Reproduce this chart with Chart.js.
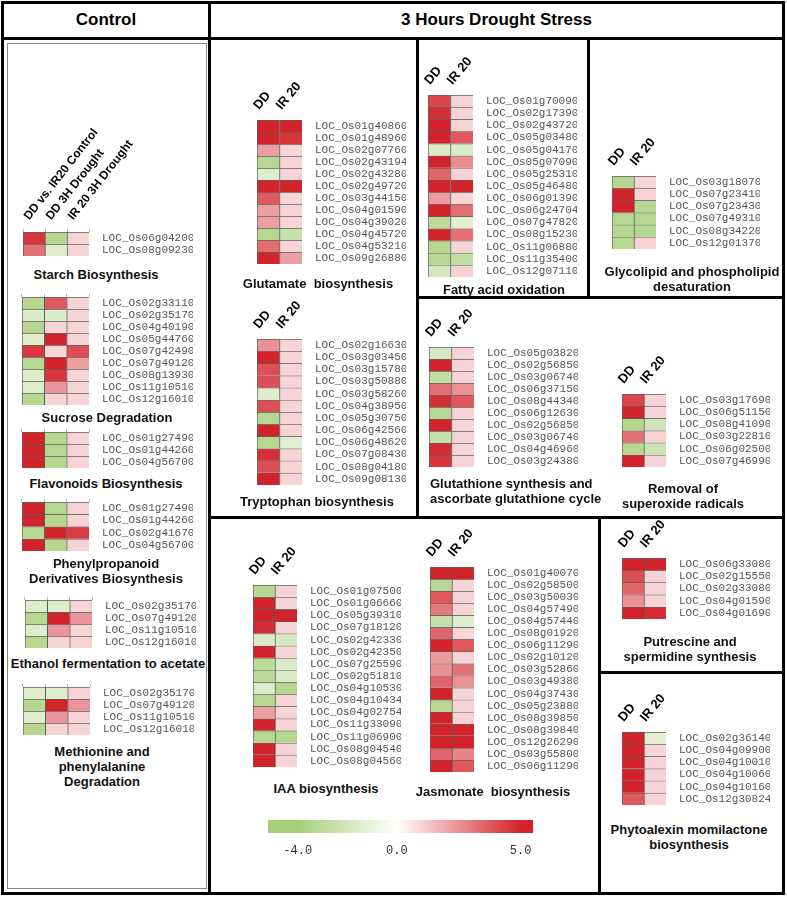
<!DOCTYPE html>
<html>
<head>
<meta charset="utf-8">
<script src="https://cdn.jsdelivr.net/npm/chart.js@4.4.1/dist/chart.umd.min.js"></script>
<style>
  body { margin: 0; background: #fff; }
  #page { position: relative; width: 787px; height: 897px; overflow: hidden; background: #fff;
          font-family: 'Liberation Sans', Arial, sans-serif; }
  .line { position: absolute; background: #000; }
  .box { position: absolute; border: 1px solid #8a8a8a; box-sizing: border-box; }
  .title { position: absolute; font-weight: bold; font-size: 13px; line-height: 15px; color: #111;
           white-space: nowrap; }
  .head { position: absolute; font-weight: bold; font-size: 17px; line-height: 20px; color: #000;
          text-align: center; }
  canvas { position: absolute; }
</style>
</head>
<body>
<div id="page"></div>
<script>
// column headers
const CONTROL_COLS = ['DD vs. IR20 Control', 'DD 3H Drought', 'IR 20 3H Drought'];
const DROUGHT_COLS = ['DD', 'IR 20'];

// ---- Control panel (log2 values) ----
const STARCH_GENES = ['LOC_Os06g04200', 'LOC_Os08g09230'];
const STARCH_VALUES = [[4.6, -3.3, 1], [3.2, -1.5, 1]];

const SUCROSE_GENES = ['LOC_Os02g33110', 'LOC_Os02g35170', 'LOC_Os04g40190', 'LOC_Os05g44760', 'LOC_Os07g42490',
  'LOC_Os07g49120', 'LOC_Os08g13930', 'LOC_Os11g10510', 'LOC_Os12g16010'];
const SUCROSE_VALUES = [[-3.3, 3.8, 1], [-1.6, -1.6, 1], [-3.3, 1, 1], [-1.5, 5, 1], [4.5, 1, 4],
  [-3.3, 5, 2.2], [-1.5, 4.6, 1], [-1.5, 2.4, 1], [-3.3, 1, 1]];

const FLAVONOID_GENES = ['LOC_Os01g27490', 'LOC_Os01g44260', 'LOC_Os04g56700'];
const FLAVONOID_VALUES = [[5, -3.3, 1], [5, -3.3, 1], [5, -3.3, 1]];

const PHENYL_GENES = ['LOC_Os01g27490', 'LOC_Os01g44260', 'LOC_Os02g41670', 'LOC_Os04g56700'];
const PHENYL_VALUES = [[5, -3.3, 1], [5, -3.3, 1], [-3.3, 5, 4.4], [5, -3.3, 1]];

const ETHANOL_GENES = ['LOC_Os02g35170', 'LOC_Os07g49120', 'LOC_Os11g10510', 'LOC_Os12g16010'];
const ETHANOL_VALUES = [[-1.5, -1.5, 1], [-3.3, 5, 2.4], [-1.5, 2.4, 1], [-3.3, 1, 1]];

const METHIONINE_GENES = ['LOC_Os02g35170', 'LOC_Os07g49120', 'LOC_Os11g10510', 'LOC_Os12g16010'];
const METHIONINE_VALUES = [[-1.5, -1.5, 1], [-3.3, 5, 2.4], [-1.5, 2.4, 1], [-3.3, 1, 1]];

// ---- 3 hours drought stress ----
const GLUTAMATE_GENES = ['LOC_Os01g40860', 'LOC_Os01g48960', 'LOC_Os02g07760', 'LOC_Os02g43194', 'LOC_Os02g43280',
  'LOC_Os02g49720', 'LOC_Os03g44150', 'LOC_Os04g01590', 'LOC_Os04g39020', 'LOC_Os04g45720', 'LOC_Os04g53210',
  'LOC_Os09g26880'];
const GLUTAMATE_VALUES = [[5, 5], [5, 4.6], [2.2, 1], [-3.3, 1], [-1.5, 1], [5, 5], [3.8, 1], [2.2, 1], [2.2, 1],
  [-3.3, -2.5], [3.3, 1], [5, 2.2]];

const TRYPTOPHAN_GENES = ['LOC_Os02g16630', 'LOC_Os03g03450', 'LOC_Os03g15780', 'LOC_Os03g50880', 'LOC_Os03g58260',
  'LOC_Os04g38950', 'LOC_Os05g30750', 'LOC_Os06g42560', 'LOC_Os06g48620', 'LOC_Os07g08430', 'LOC_Os08g04180',
  'LOC_Os09g08130'];
const TRYPTOPHAN_VALUES = [[2.5, 1], [5, 1], [4, 1], [4, 1], [-1.5, 1], [4, 1], [-3.3, 1], [5, 1], [-3.3, -1.3],
  [4.7, 1], [4, 1], [5, 1]];

const FATTY_GENES = ['LOC_Os01g70090', 'LOC_Os02g17390', 'LOC_Os02g43720', 'LOC_Os05g03480', 'LOC_Os05g04170',
  'LOC_Os05g07090', 'LOC_Os05g25310', 'LOC_Os05g46480', 'LOC_Os06g01390', 'LOC_Os06g24704', 'LOC_Os07g47820',
  'LOC_Os08g15230', 'LOC_Os11g06880', 'LOC_Os11g35400', 'LOC_Os12g07110'];
const FATTY_VALUES = [[4.2, 1], [4.7, 1], [5, 1], [5, 3.8], [-1.7, -1.7], [5, 2.6], [3.5, 1], [5, 5], [2.3, 1],
  [5, 3.3], [-3, -1.3], [5, 3.2], [-3.3, 1], [-3.3, -2.8], [-2, 1]];

const GLYCOLIPID_GENES = ['LOC_Os03g18070', 'LOC_Os07g23410', 'LOC_Os07g23430', 'LOC_Os07g49310', 'LOC_Os08g34220',
  'LOC_Os12g01370'];
const GLYCOLIPID_VALUES = [[-3.3, 1], [5, 1], [5, -3.3], [-3.3, -3.3], [-3.3, -3.3], [-3.3, 1]];

const GLUTATHIONE_GENES = ['LOC_Os05g03820', 'LOC_Os02g56850', 'LOC_Os03g06740', 'LOC_Os06g37150', 'LOC_Os08g44340',
  'LOC_Os06g12630', 'LOC_Os02g56850', 'LOC_Os03g06740', 'LOC_Os04g46960', 'LOC_Os03g24380'];
const GLUTATHIONE_VALUES = [[-1.8, 1], [5, 1], [-2.8, 1], [3.3, 2.5], [4.7, 3.8], [-3.3, 1], [5, 1], [-2.5, 1],
  [4.8, 1], [4.6, 1]];

const SUPEROXIDE_GENES = ['LOC_Os03g17690', 'LOC_Os06g51150', 'LOC_Os08g41090', 'LOC_Os03g22810', 'LOC_Os06g02500',
  'LOC_Os07g46990'];
const SUPEROXIDE_VALUES = [[4.2, 1], [5, 1], [-3.3, -2.2], [3.2, 1], [-3.3, -2.2], [5, 1]];

const IAA_GENES = ['LOC_Os01g07500', 'LOC_Os01g06660', 'LOC_Os05g39310', 'LOC_Os07g18120', 'LOC_Os02g42330',
  'LOC_Os02g42350', 'LOC_Os07g25590', 'LOC_Os02g51810', 'LOC_Os04g10530', 'LOC_Os04g10434', 'LOC_Os04g02754',
  'LOC_Os11g33090', 'LOC_Os11g06900', 'LOC_Os08g04540', 'LOC_Os08g04560'];
const IAA_VALUES = [[-3.3, 1], [5, 1], [5, 5], [4.8, 1], [-1.6, -1.8], [5, 1], [-3, -1.6], [-3, -1.6], [-1.6, -3.3],
  [-3.3, 1], [2.2, 1], [5, 1], [-3.3, -3.3], [5, 1], [5, 1]];

const JASMONATE_GENES = ['LOC_Os01g40070', 'LOC_Os02g58500', 'LOC_Os03g50030', 'LOC_Os04g57490', 'LOC_Os04g57440',
  'LOC_Os08g01920', 'LOC_Os06g11290', 'LOC_Os02g10120', 'LOC_Os03g52860', 'LOC_Os03g49380', 'LOC_Os04g37430',
  'LOC_Os05g23880', 'LOC_Os08g39850', 'LOC_Os08g39840', 'LOC_Os12g26290', 'LOC_Os03g55800', 'LOC_Os06g11290'];
const JASMONATE_VALUES = [[5, 5], [-3.3, 1], [3.8, 1], [3, 1], [-2.5, -1.5], [3.5, 1], [5, 3.8], [2.3, 1], [2.5, 3.2],
  [3.5, 2.5], [5, 1], [-3.3, 1], [5, 1], [5, 5], [5, 5], [3.5, 2.8], [5, 3.8]];

const PUTRESCINE_GENES = ['LOC_Os06g33080', 'LOC_Os02g15550', 'LOC_Os02g33080', 'LOC_Os04g01590', 'LOC_Os04g01690'];
const PUTRESCINE_VALUES = [[5, 5], [4, 1], [3.5, 1], [2.5, 1], [5, 4.8]];

const PHYTOALEXIN_GENES = ['LOC_Os02g36140', 'LOC_Os04g09900', 'LOC_Os04g10010', 'LOC_Os04g10060', 'LOC_Os04g10160',
  'LOC_Os12g30824'];
const PHYTOALEXIN_VALUES = [[5, -1.3], [5, 1], [5, 1], [5, 1], [5, 1], [3.8, 1]];

// colour key
const KEY_MIN = -5.2;
const KEY_MAX = 5.5;
const KEY_TICKS = [-4, 0, 5];

const GREEN = [166, 206, 120];
const RED = [211, 35, 42];

const page = document.getElementById('page');

function cellColor(v) {
  const end = v < 0 ? GREEN : RED;
  const t = Math.min(1, Math.abs(v) / (v < 0 ? 4 : 5));
  const c = end.map(ch => Math.round(255 + (ch - 255) * t));
  return 'rgb(' + c.join(',') + ')';
}

function line(x, y, w, h) {
  const d = document.createElement('div');
  d.className = 'line';
  d.style.cssText = `left:${x}px;top:${y}px;width:${w}px;height:${h}px`;
  page.appendChild(d);
}

function title(lines, cx, cy, align) {
  const d = document.createElement('div');
  d.className = 'title';
  d.innerHTML = lines.join('<br>');
  if (align === 'left') {
    d.style.left = cx + 'px';
  } else {
    d.style.left = (cx - 150) + 'px';
    d.style.width = '300px';
    d.style.textAlign = 'center';
  }
  d.style.top = (cy - 7.5) + 'px';
  page.appendChild(d);
}

// one heatmap = one small bar chart; each row is a dataset of floating bars [i, i+1]
const PAD_L = 20;
function heatmap(genes, values, cols, left, top, cellW, cellH, opts) {
  const n = genes.length;
  const headH = opts.headH;
  const labelW = 104;
  const areaW = Math.round(cellW * cols.length);
  const areaH = Math.round(cellH * n);
  const canvas = document.createElement('canvas');
  canvas.width = PAD_L + areaW + labelW;
  canvas.height = headH + areaH + 8;
  canvas.style.left = (left - PAD_L) + 'px';
  canvas.style.top = (top - headH) + 'px';
  page.appendChild(canvas);

  new Chart(canvas, {
    type: 'bar',
    data: {
      labels: cols,
      datasets: genes.map((g, i) => ({
        data: cols.map(() => [i, i + 1]),
        backgroundColor: values[i].map(cellColor),
        borderColor: 'rgba(55,55,55,0.8)',
        borderWidth: { top: 1, left: 1, right: 0, bottom: 0 },
        borderSkipped: false,
        barPercentage: 1,
        categoryPercentage: 1,
      })),
    },
    options: {
      responsive: false,
      animation: false,
      layout: { autoPadding: false, padding: { left: PAD_L, top: 0, right: 0, bottom: 8 } },
      plugins: { legend: { display: false }, tooltip: { enabled: false } },
      scales: {
        x: {
          position: 'top',
          stacked: true,
          grid: { display: !!opts.marks, drawOnChartArea: false, tickLength: 3, color: '#b5b5b5' },
          border: { display: false },
          ticks: {
            display: !!opts.showHead,
            autoSkip: false,
            minRotation: opts.rot || 50,
            maxRotation: opts.rot || 50,
            padding: opts.pad,
            labelOffset: opts.labelOffset,
            color: '#000',
            font: { family: "'Liberation Sans', Arial", size: opts.headSize || 13, weight: 'bold' },
          },
          afterFit: s => { s.height = headH; },
        },
        y: {
          type: 'linear',
          position: 'right',
          reverse: true,
          min: 0,
          max: n,
          grid: { display: false },
          border: { display: false },
          afterBuildTicks: s => { s.ticks = genes.map((g, i) => ({ value: i + 0.5 })); },
          ticks: {
            autoSkip: false,
            padding: 5,
            color: '#555',
            // tiny line height keeps the label half-heights out of the layout margins
            font: { family: "'Liberation Mono', 'Courier New', monospace", size: 11, lineHeight: 0.1 },
            callback: (v, i) => genes[i],
          },
          afterFit: s => { s.width = labelW; },
        },
      },
    },
  });
}

// frame
line(1, 1, 784, 3);        // top
line(1, 892, 784, 3);      // bottom
line(1, 1, 3, 894);        // left
line(782, 1, 3, 894);      // right
line(1, 37, 784, 3);       // under headers
line(208, 1, 3, 894);      // control | drought
line(416, 40, 3, 478);
line(416, 296, 368, 3);
line(587, 40, 3, 258);
line(208, 516, 576, 3);
line(598, 516, 3, 378);
line(598, 671, 186, 3);

const box = document.createElement('div');
box.className = 'box';
box.style.cssText = 'left:7px;top:43px;width:200px;height:846px';
page.appendChild(box);

const h1 = document.createElement('div');
h1.className = 'head';
h1.style.cssText = 'left:4px;top:10px;width:204px';
h1.textContent = 'Control';
page.appendChild(h1);
const h2 = document.createElement('div');
h2.className = 'head';
h2.style.cssText = 'left:211px;top:10px;width:571px';
h2.textContent = '3 Hours Drought Stress';
page.appendChild(h2);

// control heatmaps
const C = { headH: 6, marks: true, pad: 4, labelOffset: 0 };
heatmap(STARCH_GENES, STARCH_VALUES, CONTROL_COLS, 23, 232, 22, 12,
  { headH: 120, showHead: true, marks: true, pad: 6, labelOffset: 4, rot: 52, headSize: 12 });
heatmap(SUCROSE_GENES, SUCROSE_VALUES, CONTROL_COLS, 22, 297, 22.3, 12, C);
heatmap(FLAVONOID_GENES, FLAVONOID_VALUES, CONTROL_COLS, 22, 432, 22.3, 12, C);
heatmap(PHENYL_GENES, PHENYL_VALUES, CONTROL_COLS, 22, 502, 22.3, 12.2, C);
heatmap(ETHANOL_GENES, ETHANOL_VALUES, CONTROL_COLS, 25, 600, 22.3, 12, C);
heatmap(METHIONINE_GENES, METHIONINE_VALUES, CONTROL_COLS, 23, 687, 22.3, 12, C);

title(['Starch Biosynthesis'], 96, 274);
title(['Sucrose Degradation'], 107, 417);
title(['Flavonoids Biosynthesis'], 106, 483);
title(['Phenylpropanoid', 'Derivatives Biosynthesis'], 106, 563);
title(['Ethanol fermentation to acetate'], 108, 663);
title(['Methionine and', 'phenylalanine', 'Degradation'], 102, 751);

// drought heatmaps
const D = { headH: 50, showHead: true, pad: 4, labelOffset: 0, rot: 50 };
heatmap(GLUTAMATE_GENES, GLUTAMATE_VALUES, DROUGHT_COLS, 257, 120, 22.5, 12, D);
heatmap(TRYPTOPHAN_GENES, TRYPTOPHAN_VALUES, DROUGHT_COLS, 257, 339, 22.5, 12.2, D);
heatmap(FATTY_GENES, FATTY_VALUES, DROUGHT_COLS, 428, 95, 22.5, 12.1, D);
heatmap(GLYCOLIPID_GENES, GLYCOLIPID_VALUES, DROUGHT_COLS, 612, 176, 22, 12.2, D);
heatmap(GLUTATHIONE_GENES, GLUTATHIONE_VALUES, DROUGHT_COLS, 429, 347, 22.5, 12, D);
heatmap(SUPEROXIDE_GENES, SUPEROXIDE_VALUES, DROUGHT_COLS, 622, 394, 22, 12.2, D);
heatmap(IAA_GENES, IAA_VALUES, DROUGHT_COLS, 253, 585, 22, 12.1, D);
heatmap(JASMONATE_GENES, JASMONATE_VALUES, DROUGHT_COLS, 430, 567, 22, 12.06, D);
heatmap(PUTRESCINE_GENES, PUTRESCINE_VALUES, DROUGHT_COLS, 622, 558, 22, 12.2, D);
heatmap(PHYTOALEXIN_GENES, PHYTOALEXIN_VALUES, DROUGHT_COLS, 622, 732, 22, 12.2, D);

title(['Glutamate&nbsp; biosynthesis'], 318, 283);
title(['Tryptophan biosynthesis'], 317, 501);
title(['Fatty acid oxidation'], 504, 289);
title(['Glycolipid and phospholipid', 'desaturation'], 692, 271);
title(['Glutathione synthesis and', 'ascorbate glutathione cycle'], 430, 483, 'left');
title(['Removal of', 'superoxide radicals'], 683, 488);
title(['IAA biosynthesis'], 326, 788);
title(['Jasmonate&nbsp; biosynthesis'], 493, 791);
title(['Putrescine and', 'spermidine synthesis'], 690, 641);
title(['Phytoalexin momilactone', 'biosynthesis'], 689, 829);

// colour key
const keyCanvas = document.createElement('canvas');
keyCanvas.width = 290;
keyCanvas.height = 45;
keyCanvas.style.left = '260px';
keyCanvas.style.top = '813px';
page.appendChild(keyCanvas);

new Chart(keyCanvas, {
  type: 'bar',
  data: {
    labels: ['key'],
    datasets: [{
      data: [[KEY_MIN, KEY_MAX]],
      barPercentage: 1,
      categoryPercentage: 1,
      backgroundColor: ctx => {
        const chart = ctx.chart;
        const xs = chart.scales.x;
        if (!xs || !chart.chartArea) return 'rgba(0,0,0,0)';
        const x0 = xs.getPixelForValue(KEY_TICKS[0]);
        const x1 = xs.getPixelForValue(KEY_TICKS[2]);
        if (!isFinite(x0) || !isFinite(x1)) return 'rgba(0,0,0,0)';
        const g = chart.ctx.createLinearGradient(x0, 0, x1, 0);
        g.addColorStop(0, cellColor(KEY_TICKS[0]));
        g.addColorStop((KEY_TICKS[1] - KEY_TICKS[0]) / (KEY_TICKS[2] - KEY_TICKS[0]), '#fff');
        g.addColorStop(1, cellColor(KEY_TICKS[2]));
        return g;
      },
    }],
  },
  options: {
    indexAxis: 'y',
    responsive: false,
    animation: false,
    layout: { autoPadding: false, padding: { left: 8, right: 17, top: 7, bottom: 0 } },
    plugins: { legend: { display: false }, tooltip: { enabled: false } },
    scales: {
      x: {
        type: 'linear',
        min: KEY_MIN,
        max: KEY_MAX,
        grid: { display: false },
        border: { display: false },
        afterBuildTicks: s => { s.ticks = KEY_TICKS.map(v => ({ value: v })); },
        ticks: {
          padding: 3,
          color: '#333',
          font: { family: "'Liberation Mono', 'Courier New', monospace", size: 12 },
          callback: v => v.toFixed(1),
        },
        afterFit: s => { s.height = 25; },
      },
      y: { display: false },
    },
  },
});
</script>
</body>
</html>
